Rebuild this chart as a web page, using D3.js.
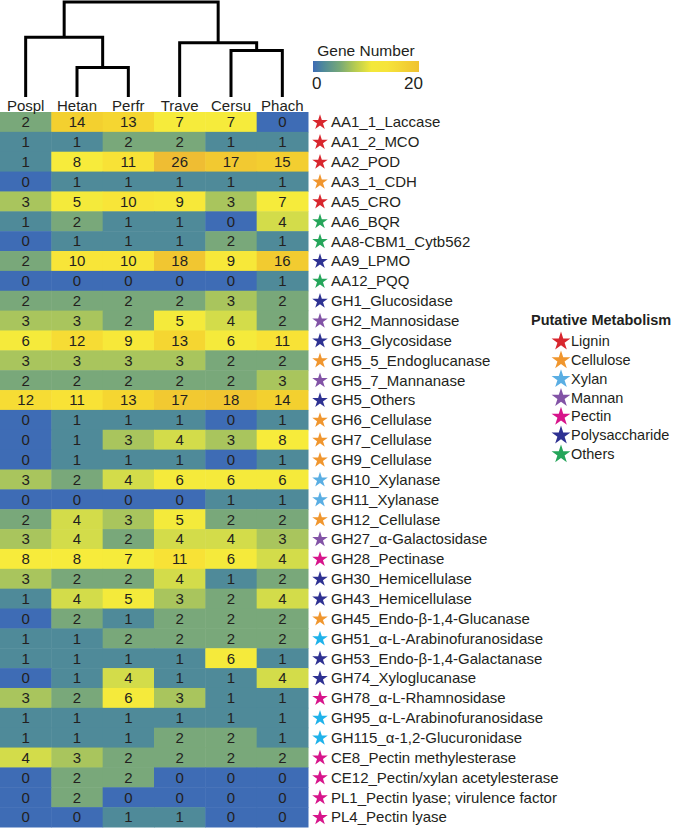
<!DOCTYPE html>
<html>
<head>
<meta charset="utf-8">
<script src="https://cdn.jsdelivr.net/npm/d3@7"></script>
<style>
  body { margin: 0; background: #fff; }
  svg { display: block; font-family: "Liberation Sans", Arial, sans-serif; }
</style>
</head>
<body>
<div id="chart"></div>
<script>
// Data
const species = ["Pospl", "Hetan", "Perfr", "Trave", "Cersu", "Phach"];
const families = [
  "AA1_1_Laccase", "AA1_2_MCO", "AA2_POD", "AA3_1_CDH", "AA5_CRO", "AA6_BQR",
  "AA8-CBM1_Cytb562", "AA9_LPMO", "AA12_PQQ", "GH1_Glucosidase", "GH2_Mannosidase",
  "GH3_Glycosidase", "GH5_5_Endoglucanase", "GH5_7_Mannanase", "GH5_Others",
  "GH6_Cellulase", "GH7_Cellulase", "GH9_Cellulase", "GH10_Xylanase", "GH11_Xylanase",
  "GH12_Cellulase", "GH27_α-Galactosidase", "GH28_Pectinase", "GH30_Hemicellulase",
  "GH43_Hemicellulase", "GH45_Endo-β-1,4-Glucanase", "GH51_α-L-Arabinofuranosidase",
  "GH53_Endo-β-1,4-Galactanase", "GH74_Xyloglucanase", "GH78_α-L-Rhamnosidase",
  "GH95_α-L-Arabinofuranosidase", "GH115_α-1,2-Glucuronidase", "CE8_Pectin methylesterase",
  "CE12_Pectin/xylan acetylesterase", "PL1_Pectin lyase; virulence factor", "PL4_Pectin lyase"
];
const geneCounts = [
  [2, 14, 13, 7, 7, 0],
  [1, 1, 2, 2, 1, 1],
  [1, 8, 11, 26, 17, 15],
  [0, 1, 1, 1, 1, 1],
  [3, 5, 10, 9, 3, 7],
  [1, 2, 1, 1, 0, 4],
  [0, 1, 1, 1, 2, 1],
  [2, 10, 10, 18, 9, 16],
  [0, 0, 0, 0, 0, 1],
  [2, 2, 2, 2, 3, 2],
  [3, 3, 2, 5, 4, 2],
  [6, 12, 9, 13, 6, 11],
  [3, 3, 3, 3, 2, 2],
  [2, 2, 2, 2, 2, 3],
  [12, 11, 13, 17, 18, 14],
  [0, 1, 1, 1, 0, 1],
  [0, 1, 3, 4, 3, 8],
  [0, 1, 1, 1, 0, 1],
  [3, 2, 4, 6, 6, 6],
  [0, 0, 0, 0, 1, 1],
  [2, 4, 3, 5, 2, 2],
  [3, 4, 2, 4, 4, 3],
  [8, 8, 7, 11, 6, 4],
  [3, 2, 2, 4, 1, 2],
  [1, 4, 5, 3, 2, 4],
  [0, 2, 1, 2, 2, 2],
  [1, 1, 2, 2, 2, 2],
  [1, 1, 1, 1, 6, 1],
  [0, 1, 4, 1, 1, 4],
  [3, 2, 6, 3, 1, 1],
  [1, 1, 1, 1, 1, 1],
  [1, 1, 1, 2, 2, 1],
  [4, 3, 2, 2, 2, 2],
  [0, 2, 2, 0, 0, 0],
  [0, 2, 0, 0, 0, 0],
  [0, 0, 1, 1, 0, 0]
];
const metabolism = [
  "Lignin", "Lignin", "Lignin", "Cellulose", "Lignin", "Others", "Others", "Polysaccharide",
  "Others", "Polysaccharide", "Mannan", "Polysaccharide", "Cellulose", "Mannan", "Polysaccharide",
  "Cellulose", "Cellulose", "Cellulose", "Xylan", "Xylan", "Cellulose", "Mannan", "Pectin",
  "Polysaccharide", "Polysaccharide", "Cellulose", "Xylan*", "Polysaccharide", "Polysaccharide",
  "Pectin", "Xylan*", "Xylan*", "Pectin", "Pectin", "Pectin", "Pectin"
];
const legendCategories = ["Lignin", "Cellulose", "Xylan", "Mannan", "Pectin", "Polysaccharide", "Others"];
// Dendrogram (merge heights, relative)
const tree = {
  height: 1, children: [
    { height: 0.63, children: [
      { name: "Pospl" },
      { height: 0.31, children: [{ name: "Hetan" }, { name: "Perfr" }] }
    ] },
    { height: 0.57, children: [
      { name: "Trave" },
      { height: 0.49, children: [{ name: "Cersu" }, { name: "Phach" }] }
    ] }
  ]
};
const geneDomain = [0, 20];

// Colors
const catColor = {
  "Lignin": "#d8262e",
  "Cellulose": "#f0962e",
  "Xylan": "#5aaee3",
  "Xylan*": "#1fb2ea",
  "Mannan": "#8253a6",
  "Pectin": "#d7148b",
  "Polysaccharide": "#2e3192",
  "Others": "#25a55a"
};
const cellColor = d3.scaleLinear()
  .domain([0, 1, 2, 3, 4, 5, 8, 11, 14, 18, 26])
  .range(["#3e6cb5", "#4f8a99", "#79a87a", "#a9c55d", "#d3dc4a", "#f4ea3b",
          "#f7eb3b", "#f8e236", "#f3d02f", "#f1c631", "#efbd33"])
  .clamp(true);
const legendColor = d3.scaleLinear()
  .domain([0, 2, 5, 8, 11, 14, 20])
  .range(["#3d6bb5", "#4f8a99", "#76a878", "#b7cc50", "#f3e83a", "#f6e43a", "#f0c230"]);

const width = 675, height = 829;
const svg = d3.select("#chart").append("svg")
  .attr("width", width).attr("height", height);

// Scales
const x = d3.scaleBand().domain(species).range([0, 308]);
const y = d3.scaleBand().domain(families).range([112, 827]);
const yDend = d3.scaleLinear().domain([0, 1]).range([97, 2]);

// Heatmap cells
const cells = [];
families.forEach((f, i) => species.forEach((s, j) => cells.push({ f, s, v: geneCounts[i][j] })));
const gCells = svg.append("g");
gCells.selectAll("rect").data(cells).join("rect")
  .attr("x", d => x(d.s))
  .attr("y", d => y(d.f))
  .attr("width", x.bandwidth() + 0.5)
  .attr("height", y.bandwidth() + 0.5)
  .attr("fill", d => cellColor(d.v));
gCells.selectAll("text").data(cells).join("text")
  .attr("x", d => x(d.s) + x.bandwidth() / 2)
  .attr("y", d => y(d.f) + y.bandwidth() / 2)
  .attr("dy", "0.36em")
  .attr("text-anchor", "middle")
  .attr("font-size", 15)
  .attr("fill", "#231f20")
  .text(d => d.v);

// Column labels
svg.append("g").selectAll("text").data(species).join("text")
  .attr("x", d => x(d) + x.bandwidth() / 2)
  .attr("y", 111)
  .attr("text-anchor", "middle")
  .attr("font-size", 15)
  .attr("fill", "#231f20")
  .text(d => d);

// Dendrogram
const root = d3.hierarchy(tree);
root.eachAfter(n => {
  if (!n.children) {
    n.px = x(n.data.name) + x.bandwidth() / 2;
    n.py = yDend(0);
  } else {
    n.px = d3.mean(n.children, c => c.px);
    n.py = yDend(n.data.height);
  }
});
svg.append("g").selectAll("path")
  .data(root.descendants().filter(n => n.children))
  .join("path")
  .attr("fill", "none")
  .attr("stroke", "#000")
  .attr("stroke-width", 3)
  .attr("d", n => {
    const [a, b] = n.children;
    return `M${a.px},${a.py}V${n.py}H${b.px}V${b.py}`;
  });

// Row labels with stars
const star = d3.symbol().type(d3.symbolStar).size(75);
const gRows = svg.append("g").selectAll("g").data(families).join("g")
  .attr("transform", d => `translate(0,${y(d) + y.bandwidth() / 2})`);
gRows.append("path")
  .attr("transform", "translate(320,0.5)")
  .attr("d", star)
  .attr("fill", (d, i) => catColor[metabolism[i]]);
gRows.append("text")
  .attr("x", 331)
  .attr("dy", "0.36em")
  .attr("font-size", 15)
  .attr("fill", "#231f20")
  .text(d => d);

// Gene Number legend
const defs = svg.append("defs");
const grad = defs.append("linearGradient").attr("id", "geneGrad");
d3.range(0, 21, 1).forEach(v => {
  grad.append("stop").attr("offset", `${v / 20 * 100}%`).attr("stop-color", legendColor(v));
});
const lx = d3.scaleLinear().domain(geneDomain).range([313, 419]);
const gLeg = svg.append("g");
gLeg.append("text")
  .attr("x", (lx(0) + lx(20)) / 2).attr("y", 56)
  .attr("text-anchor", "middle").attr("font-size", 15.5).attr("fill", "#231f20")
  .text("Gene Number");
gLeg.append("rect")
  .attr("x", lx(0)).attr("y", 61).attr("width", lx(20) - lx(0)).attr("height", 11)
  .attr("fill", "url(#geneGrad)");
gLeg.append("text")
  .attr("x", lx(0) - 1).attr("y", 89).attr("font-size", 17).attr("fill", "#231f20")
  .text(geneDomain[0]);
gLeg.append("text")
  .attr("x", lx(20) + 4).attr("y", 89).attr("text-anchor", "end").attr("font-size", 17).attr("fill", "#231f20")
  .text(geneDomain[1]);

// Putative Metabolism legend
const gMeta = svg.append("g");
gMeta.append("text")
  .attr("x", 531).attr("y", 325)
  .attr("font-size", 14.5).attr("font-weight", "bold").attr("fill", "#231f20")
  .text("Putative Metabolism");
const metaItems = gMeta.selectAll("g.item").data(legendCategories).join("g")
  .attr("class", "item")
  .attr("transform", (d, i) => `translate(0,${341 + i * 18.8})`);
metaItems.append("path")
  .attr("transform", "translate(561,0.5)")
  .attr("d", d3.symbol().type(d3.symbolStar).size(110))
  .attr("fill", d => catColor[d]);
metaItems.append("text")
  .attr("x", 571).attr("dy", "0.36em")
  .attr("font-size", 14.5).attr("fill", "#231f20")
  .text(d => d);
</script>
</body>
</html>
